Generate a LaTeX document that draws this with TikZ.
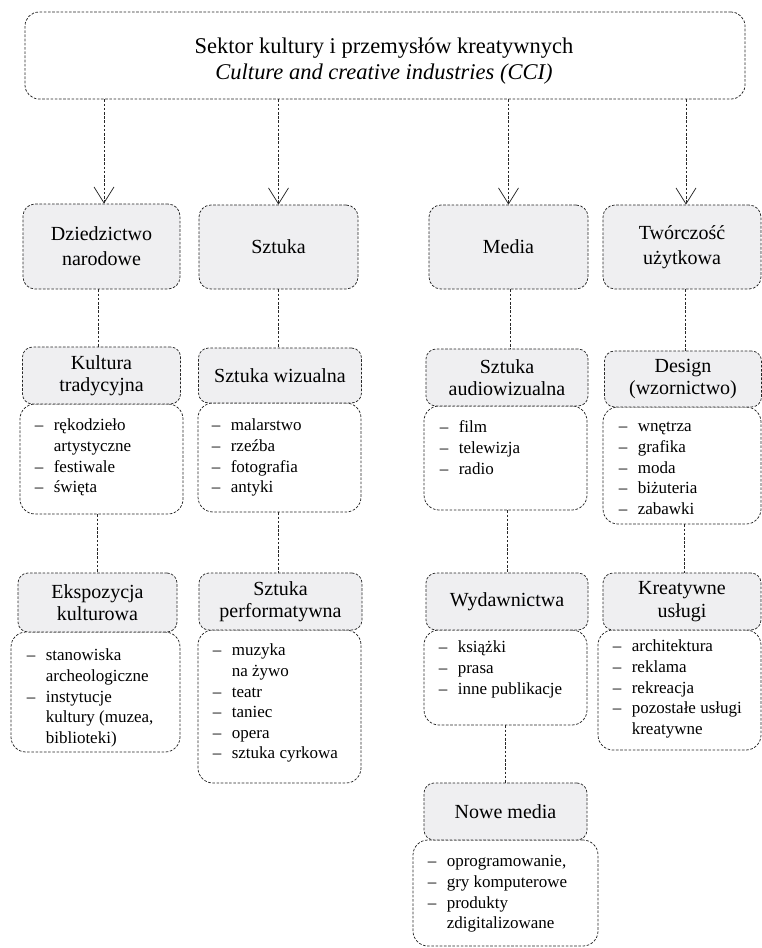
\documentclass[tikz,border=0pt]{standalone}
\usepackage{fontspec}
\setmainfont{Liberation Serif}
\usetikzlibrary{arrows.meta,calc}
\definecolor{boxfill}{RGB}{239,239,241}
\definecolor{linec}{RGB}{40,40,40}
\newcommand{\itm}[1]{\makebox[19pt][l]{–}#1}
\newcommand{\cnt}[1]{\hspace*{19pt}#1}
\begin{document}
\begin{tikzpicture}[x=1pt,y=-1pt,
  dsh/.style={draw=linec, line width=0.75pt, dash pattern=on 2.6pt off 1.6pt},
  topbox/.style={dsh, rounded corners=14pt, inner sep=0pt},
  catbox/.style={dsh, fill=boxfill, rounded corners=12pt, inner sep=0pt, align=center, font=\fontsize{20}{25}\selectfont},
  hdrbox/.style={dsh, fill=boxfill, rounded corners=10pt, inner sep=0pt, align=center, font=\fontsize{20}{22.5}\selectfont},
  listbox/.style={dsh, rounded corners=15pt, inner sep=0pt},
  listtxt/.style={anchor=north west, inner sep=0pt, align=left, font=\fontsize{17}{20.6}\selectfont},
  conn/.style={dsh},
  arr/.style={dsh, -{Straight Barb[length=16pt,width=20pt,line width=0.75pt]}},
]
\useasboundingbox (0,0) rectangle (762,948);

% top box
\node[topbox, minimum width=720pt, minimum height=87pt] (top) at (385,55.5) {};
\node[font=\fontsize{22.5}{26.5}\selectfont, align=center, inner sep=0pt] (title) at (384,61)
  {Sektor kultury i przemysłów kreatywnych\\\textit{Culture and creative industries (CCI)}};

% level 1
\node[catbox, minimum width=157pt, minimum height=85pt] (A1) at (101.5,246.5) {Dziedzictwo\\narodowe};
\node[catbox, minimum width=159pt, minimum height=84pt] (B1) at (278.5,247) {Sztuka};
\node[catbox, minimum width=159pt, minimum height=84pt] (C1) at (508.5,247) {Media};
\node[catbox, minimum width=158pt, minimum height=84pt] (D1) at (682,247) {Twórczość\\użytkowa};

% arrows
\draw[arr] ([xshift=2.5pt]A1.north |- top.south) -- ([xshift=2.5pt]A1.north);
\draw[arr] (B1.north |- top.south) -- (B1.north);
\draw[arr] (C1.north |- top.south) -- (C1.north);
\draw[arr] ([xshift=4pt]D1.north |- top.south) -- ([xshift=4pt]D1.north);

% level 2 lists (drawn first)
\node[listbox, minimum width=163pt, minimum height=110pt] (A2l) at (101.5,459) {};
\node[listbox, minimum width=163pt, minimum height=109pt] (B2l) at (279.5,457.5) {};
\node[listbox, minimum width=163pt, minimum height=104pt] (C2l) at (505.5,458) {};
\node[listbox, minimum width=158pt, minimum height=117pt] (D2l) at (682,465.5) {};

% level 2 headers
\node[hdrbox, minimum width=158pt, minimum height=57pt] (A2) at (101.5,375.5) {Kultura\\tradycyjna};
\node[hdrbox, minimum width=163pt, minimum height=55pt] (B2) at (280,375.5) {Sztuka wizualna};
\node[hdrbox, minimum width=162pt, minimum height=57pt] (C2) at (507,377.5) {Sztuka\\audiowizualna};
\node[hdrbox, minimum width=157pt, minimum height=56pt] (D2) at (683,379) {Design\\(wzornictwo)};

% level 2 list texts
\node[listtxt] (A2t) at ([shift={(15,12.6)}]A2l.north west)
  {\strut\itm{rękodzieło}\\\cnt{artystyczne}\\\itm{festiwale}\\\itm{święta}};
\node[listtxt] (B2t) at ([shift={(14,13.6)}]B2l.north west)
  {\strut\itm{malarstwo}\\\itm{rzeźba}\\\itm{fotografia}\\\itm{antyki}};
\node[listtxt] (C2t) at ([shift={(16,12.6)}]C2l.north west)
  {\strut\itm{film}\\\itm{telewizja}\\\itm{radio}};
\node[listtxt] (D2t) at ([shift={(16,10.6)}]D2l.north west)
  {\strut\itm{wnętrza}\\\itm{grafika}\\\itm{moda}\\\itm{biżuteria}\\\itm{zabawki}};

% level 1 -> level 2 connectors
\draw[conn] ([xshift=-3pt]A1.south) -- ([xshift=-3pt]A1.south |- A2.north);
\draw[conn] (B1.south) -- (B1.south |- B2.north);
\draw[conn] ([xshift=1.5pt]C1.south) -- ([xshift=1.5pt]C1.south |- C2.north);
\draw[conn] ([xshift=3pt]D1.south) -- ([xshift=3pt]D1.south |- D2.north);

% level 3 lists
\node[listbox, minimum width=169pt, minimum height=120pt] (A3l) at (95.5,692) {};
\node[listbox, minimum width=163pt, minimum height=153pt] (B3l) at (279.5,706.5) {};
\node[listbox, minimum width=163pt, minimum height=95pt] (C3l) at (505.5,677.5) {};
\node[listbox, minimum width=163pt, minimum height=120pt] (D3l) at (679.5,690) {};

% level 3 headers
\node[hdrbox, minimum width=159pt, minimum height=59pt] (A3) at (97.5,602.5) {Ekspozycja\\kulturowa};
\node[hdrbox, minimum width=163pt, minimum height=57pt] (B3) at (280.5,601.5) {Sztuka\\performatywna};
\node[hdrbox, minimum width=162pt, minimum height=57pt] (C3) at (507,601.5) {Wydawnictwa};
\node[hdrbox, minimum width=158pt, minimum height=57pt] (D3) at (682,601.5) {Kreatywne\\usługi};

% level 3 list texts
\node[listtxt] (A3t) at ([shift={(16,14.6)}]A3l.north west)
  {\strut\itm{stanowiska}\\\cnt{archeologiczne}\\\itm{instytucje}\\\cnt{kultury (muzea,}\\\cnt{biblioteki)}};
\node[listtxt] (B3t) at ([shift={(15,11.6)}]B3l.north west)
  {\strut\itm{muzyka}\\\cnt{na żywo}\\\itm{teatr}\\\itm{taniec}\\\itm{opera}\\\itm{sztuka cyrkowa}};
\node[listtxt] (C3t) at ([shift={(15,8.6)}]C3l.north west)
  {\strut\itm{książki}\\\itm{prasa}\\\itm{inne publikacje}};
\node[listtxt] (D3t) at ([shift={(15,7.6)}]D3l.north west)
  {\strut\itm{architektura}\\\itm{reklama}\\\itm{rekreacja}\\\itm{pozostałe usługi}\\\cnt{kreatywne}};

% level 2 -> level 3 connectors
\draw[conn] ([xshift=-4.5pt]A2l.south) -- ([xshift=-4.5pt]A2l.south |- A3.north);
\draw[conn] ([xshift=-1pt]B2l.south) -- ([xshift=-1pt]B2l.south |- B3.north);
\draw[conn] ([xshift=1.5pt]C2l.south) -- ([xshift=1.5pt]C2l.south |- C3.north);
\draw[conn] ([xshift=2pt]D2l.south) -- ([xshift=2pt]D2l.south |- D3.north);

% level 4 (Nowe media)
\node[listbox, minimum width=185pt, minimum height=106pt] (C4l) at (505.5,893) {};
\node[hdrbox, minimum width=163pt, minimum height=57pt] (C4) at (505.5,811.5) {Nowe media};
\node[listtxt] (C4t) at ([shift={(15,12.6)}]C4l.north west)
  {\strut\itm{oprogramowanie,}\\\itm{gry komputerowe}\\\itm{produkty}\\\cnt{zdigitalizowane}};
\draw[conn] (C3l.south) -- (C3l.south |- C4.north);
\end{tikzpicture}
\end{document}
